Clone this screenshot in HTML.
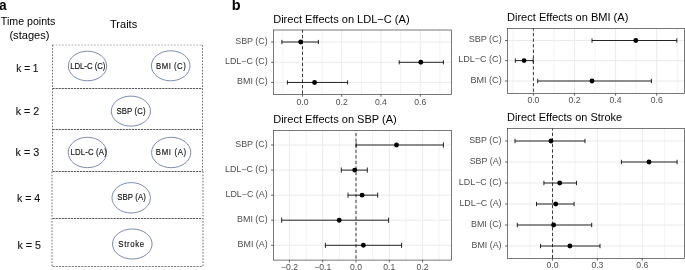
<!DOCTYPE html>
<html><head><meta charset="utf-8"><style>
html,body{margin:0;padding:0;background:#fff;}
body{width:685px;height:270px;overflow:hidden;}
svg{display:block;will-change:transform;font-family:"Liberation Sans",sans-serif;}
</style></head><body>
<svg xmlns="http://www.w3.org/2000/svg" width="685" height="270" viewBox="0 0 685 270">
<rect width="685" height="270" fill="#fff"/>
<text x="-0.69" y="9.70" font-size="14.00" font-weight="bold" fill="#000" textLength="7.31" lengthAdjust="spacingAndGlyphs">a</text>
<text x="231.86" y="9.70" font-size="14.00" font-weight="bold" fill="#000" textLength="8.83" lengthAdjust="spacingAndGlyphs">b</text>
<text x="0.86" y="24.60" font-size="11.00" fill="#000" textLength="54.50" lengthAdjust="spacingAndGlyphs">Time points</text>
<text x="9.41" y="38.80" font-size="11.00" fill="#000" textLength="40.09" lengthAdjust="spacingAndGlyphs">(stages)</text>
<text x="110.05" y="28.00" font-size="11.00" fill="#000">Traits</text>
<text x="16.32" y="72.00" font-size="11.60" fill="#111" stroke="#111" stroke-width="0.12" textLength="22.17" lengthAdjust="spacingAndGlyphs">k = 1</text>
<text x="15.78" y="114.80" font-size="11.60" fill="#111" stroke="#111" stroke-width="0.12" textLength="23.46" lengthAdjust="spacingAndGlyphs">k = 2</text>
<text x="15.57" y="156.10" font-size="11.60" fill="#111" stroke="#111" stroke-width="0.12" textLength="23.59" lengthAdjust="spacingAndGlyphs">k = 3</text>
<text x="16.88" y="201.60" font-size="11.60" fill="#111" stroke="#111" stroke-width="0.12" textLength="23.42" lengthAdjust="spacingAndGlyphs">k = 4</text>
<text x="17.38" y="249.10" font-size="11.60" fill="#111" stroke="#111" stroke-width="0.12" textLength="23.46" lengthAdjust="spacingAndGlyphs">k = 5</text>
<line x1="52.50" y1="45.00" x2="202.50" y2="45.00" stroke="#aaa" stroke-width="1" stroke-dasharray="1.6 1.6"/>
<line x1="52.50" y1="88.50" x2="202.50" y2="88.50" stroke="#555" stroke-width="1" stroke-dasharray="2.2 0.85"/>
<line x1="52.50" y1="129.50" x2="202.50" y2="129.50" stroke="#555" stroke-width="1" stroke-dasharray="2.2 0.85"/>
<line x1="52.50" y1="171.50" x2="202.50" y2="171.50" stroke="#555" stroke-width="1" stroke-dasharray="2.2 0.85"/>
<line x1="52.50" y1="218.50" x2="202.50" y2="218.50" stroke="#555" stroke-width="1" stroke-dasharray="2.2 0.85"/>
<line x1="52.50" y1="266.50" x2="202.50" y2="266.50" stroke="#777" stroke-width="1" stroke-dasharray="2 1.2"/>
<line x1="52.50" y1="45.00" x2="52.50" y2="171.50" stroke="#6a6a6a" stroke-width="1" stroke-dasharray="1.6 1.5"/>
<line x1="202.50" y1="45.00" x2="202.50" y2="171.50" stroke="#6a6a6a" stroke-width="1" stroke-dasharray="1.6 1.5"/>
<line x1="52.00" y1="171.50" x2="52.00" y2="266.50" stroke="#6a6a6a" stroke-width="1" stroke-dasharray="1.6 1.5"/>
<line x1="203.00" y1="171.50" x2="203.00" y2="266.50" stroke="#6a6a6a" stroke-width="1" stroke-dasharray="1.6 1.5"/>
<ellipse cx="87.5" cy="66.0" rx="19.2" ry="14.8" fill="none" stroke="#56678c" stroke-width="0.75"/>
<text transform="scale(0.8,1)" x="87.70" y="69.00" font-size="9.75" letter-spacing="-0.031" fill="#111" stroke="#111" stroke-width="0.15">LDL-C (C)</text>
<ellipse cx="170.7" cy="65.8" rx="19.3" ry="15.0" fill="none" stroke="#56678c" stroke-width="0.75"/>
<text transform="scale(0.8,1)" x="195.07" y="69.10" font-size="9.75" letter-spacing="0.600" fill="#111" stroke="#111" stroke-width="0.15">BMI (C)</text>
<ellipse cx="130.9" cy="111.1" rx="19.6" ry="15.0" fill="none" stroke="#56678c" stroke-width="0.75"/>
<text transform="scale(0.8,1)" x="145.56" y="114.10" font-size="9.75" letter-spacing="0.143" fill="#111" stroke="#111" stroke-width="0.15">SBP (C)</text>
<ellipse cx="87.4" cy="152.5" rx="19.2" ry="15.2" fill="none" stroke="#56678c" stroke-width="0.75"/>
<text transform="scale(0.8,1)" x="88.20" y="155.00" font-size="9.75" letter-spacing="0.177" fill="#111" stroke="#111" stroke-width="0.15">LDL-C (A)</text>
<ellipse cx="171.2" cy="152.5" rx="19.6" ry="15.2" fill="none" stroke="#56678c" stroke-width="0.75"/>
<text transform="scale(0.8,1)" x="194.82" y="155.00" font-size="9.75" letter-spacing="0.814" fill="#111" stroke="#111" stroke-width="0.15">BMI (A)</text>
<ellipse cx="131.2" cy="197.8" rx="19.2" ry="15.2" fill="none" stroke="#56678c" stroke-width="0.75"/>
<text transform="scale(0.8,1)" x="146.56" y="200.00" font-size="9.75" letter-spacing="0.129" fill="#111" stroke="#111" stroke-width="0.15">SBP (A)</text>
<ellipse cx="132.3" cy="244.0" rx="19.8" ry="15.0" fill="none" stroke="#56678c" stroke-width="0.75"/>
<text transform="scale(0.8,1)" x="147.94" y="246.90" font-size="9.75" letter-spacing="0.785" fill="#111" stroke="#111" stroke-width="0.15">Stroke</text>
<text x="273.19" y="22.70" font-size="11.05" fill="#000">Direct Effects on LDL−C (A)</text>
<line x1="282.88" y1="30.00" x2="282.88" y2="94.40" stroke="#ebebeb" stroke-width="0.6"/>
<line x1="302.50" y1="30.00" x2="302.50" y2="94.40" stroke="#ebebeb" stroke-width="1.0"/>
<line x1="322.12" y1="30.00" x2="322.12" y2="94.40" stroke="#ebebeb" stroke-width="0.6"/>
<line x1="341.74" y1="30.00" x2="341.74" y2="94.40" stroke="#ebebeb" stroke-width="1.0"/>
<line x1="361.36" y1="30.00" x2="361.36" y2="94.40" stroke="#ebebeb" stroke-width="0.6"/>
<line x1="380.98" y1="30.00" x2="380.98" y2="94.40" stroke="#ebebeb" stroke-width="1.0"/>
<line x1="400.60" y1="30.00" x2="400.60" y2="94.40" stroke="#ebebeb" stroke-width="0.6"/>
<line x1="420.22" y1="30.00" x2="420.22" y2="94.40" stroke="#ebebeb" stroke-width="1.0"/>
<line x1="439.84" y1="30.00" x2="439.84" y2="94.40" stroke="#ebebeb" stroke-width="0.6"/>
<line x1="273.50" y1="42.00" x2="451.50" y2="42.00" stroke="#ebebeb" stroke-width="1.0"/>
<line x1="273.50" y1="62.30" x2="451.50" y2="62.30" stroke="#ebebeb" stroke-width="1.0"/>
<line x1="273.50" y1="82.45" x2="451.50" y2="82.45" stroke="#ebebeb" stroke-width="1.0"/>
<line x1="302.50" y1="30.00" x2="302.50" y2="94.40" stroke="#222" stroke-width="0.9" stroke-dasharray="3.2 2.36" stroke-dashoffset="0.56"/>
<line x1="281.90" y1="42.00" x2="318.40" y2="42.00" stroke="#000" stroke-width="0.85"/>
<line x1="281.90" y1="39.90" x2="281.90" y2="44.10" stroke="#000" stroke-width="0.85"/>
<line x1="318.40" y1="39.90" x2="318.40" y2="44.10" stroke="#000" stroke-width="0.85"/>
<circle cx="300.70" cy="42.00" r="2.45" fill="#000"/>
<line x1="399.20" y1="62.30" x2="443.40" y2="62.30" stroke="#000" stroke-width="0.85"/>
<line x1="399.20" y1="60.20" x2="399.20" y2="64.40" stroke="#000" stroke-width="0.85"/>
<line x1="443.40" y1="60.20" x2="443.40" y2="64.40" stroke="#000" stroke-width="0.85"/>
<circle cx="420.80" cy="62.30" r="2.45" fill="#000"/>
<line x1="287.40" y1="82.45" x2="347.60" y2="82.45" stroke="#000" stroke-width="0.85"/>
<line x1="287.40" y1="80.35" x2="287.40" y2="84.55" stroke="#000" stroke-width="0.85"/>
<line x1="347.60" y1="80.35" x2="347.60" y2="84.55" stroke="#000" stroke-width="0.85"/>
<circle cx="314.60" cy="82.45" r="2.45" fill="#000"/>
<rect x="273.50" y="30.00" width="178.00" height="64.40" fill="none" stroke="#333" stroke-width="0.66"/>
<line x1="271.10" y1="42.00" x2="273.50" y2="42.00" stroke="#333" stroke-width="0.75"/>
<text x="235.29" y="43.90" font-size="8.90" fill="#4d4d4d">SBP (C)</text>
<line x1="271.10" y1="62.30" x2="273.50" y2="62.30" stroke="#333" stroke-width="0.75"/>
<text x="224.97" y="64.20" font-size="8.90" fill="#4d4d4d">LDL−C (C)</text>
<line x1="271.10" y1="82.45" x2="273.50" y2="82.45" stroke="#333" stroke-width="0.75"/>
<text x="237.12" y="84.35" font-size="8.90" fill="#4d4d4d">BMI (C)</text>
<line x1="302.50" y1="94.40" x2="302.50" y2="96.70" stroke="#333" stroke-width="0.75"/>
<text x="296.49" y="105.00" font-size="8.90" fill="#4d4d4d" textLength="12.00" lengthAdjust="spacingAndGlyphs">0.0</text>
<line x1="341.74" y1="94.40" x2="341.74" y2="96.70" stroke="#333" stroke-width="0.75"/>
<text x="335.78" y="105.00" font-size="8.90" fill="#4d4d4d" textLength="12.00" lengthAdjust="spacingAndGlyphs">0.2</text>
<line x1="380.98" y1="94.40" x2="380.98" y2="96.70" stroke="#333" stroke-width="0.75"/>
<text x="374.93" y="105.00" font-size="8.90" fill="#4d4d4d" textLength="12.00" lengthAdjust="spacingAndGlyphs">0.4</text>
<line x1="420.22" y1="94.40" x2="420.22" y2="96.70" stroke="#333" stroke-width="0.75"/>
<text x="414.23" y="105.00" font-size="8.90" fill="#4d4d4d" textLength="12.00" lengthAdjust="spacingAndGlyphs">0.6</text>
<text x="506.99" y="20.70" font-size="11.05" fill="#000">Direct Effects on BMI (A)</text>
<line x1="512.85" y1="28.45" x2="512.85" y2="93.40" stroke="#ebebeb" stroke-width="0.6"/>
<line x1="533.40" y1="28.45" x2="533.40" y2="93.40" stroke="#ebebeb" stroke-width="1.0"/>
<line x1="553.95" y1="28.45" x2="553.95" y2="93.40" stroke="#ebebeb" stroke-width="0.6"/>
<line x1="574.50" y1="28.45" x2="574.50" y2="93.40" stroke="#ebebeb" stroke-width="1.0"/>
<line x1="595.05" y1="28.45" x2="595.05" y2="93.40" stroke="#ebebeb" stroke-width="0.6"/>
<line x1="615.60" y1="28.45" x2="615.60" y2="93.40" stroke="#ebebeb" stroke-width="1.0"/>
<line x1="636.15" y1="28.45" x2="636.15" y2="93.40" stroke="#ebebeb" stroke-width="0.6"/>
<line x1="656.70" y1="28.45" x2="656.70" y2="93.40" stroke="#ebebeb" stroke-width="1.0"/>
<line x1="677.25" y1="28.45" x2="677.25" y2="93.40" stroke="#ebebeb" stroke-width="0.6"/>
<line x1="507.50" y1="40.50" x2="684.60" y2="40.50" stroke="#ebebeb" stroke-width="1.0"/>
<line x1="507.50" y1="60.60" x2="684.60" y2="60.60" stroke="#ebebeb" stroke-width="1.0"/>
<line x1="507.50" y1="81.00" x2="684.60" y2="81.00" stroke="#ebebeb" stroke-width="1.0"/>
<line x1="533.40" y1="28.45" x2="533.40" y2="93.40" stroke="#222" stroke-width="0.9" stroke-dasharray="3.2 2.36" stroke-dashoffset="1.00"/>
<line x1="592.00" y1="40.50" x2="676.80" y2="40.50" stroke="#000" stroke-width="0.85"/>
<line x1="592.00" y1="38.30" x2="592.00" y2="42.70" stroke="#000" stroke-width="0.85"/>
<line x1="676.80" y1="38.30" x2="676.80" y2="42.70" stroke="#000" stroke-width="0.85"/>
<circle cx="635.80" cy="40.50" r="2.45" fill="#000"/>
<line x1="515.30" y1="60.60" x2="533.20" y2="60.60" stroke="#000" stroke-width="0.85"/>
<line x1="515.30" y1="58.40" x2="515.30" y2="62.80" stroke="#000" stroke-width="0.85"/>
<line x1="533.20" y1="58.40" x2="533.20" y2="62.80" stroke="#000" stroke-width="0.85"/>
<circle cx="524.10" cy="60.60" r="2.45" fill="#000"/>
<line x1="537.70" y1="81.00" x2="651.40" y2="81.00" stroke="#000" stroke-width="0.85"/>
<line x1="537.70" y1="78.80" x2="537.70" y2="83.20" stroke="#000" stroke-width="0.85"/>
<line x1="651.40" y1="78.80" x2="651.40" y2="83.20" stroke="#000" stroke-width="0.85"/>
<circle cx="592.00" cy="81.00" r="2.45" fill="#000"/>
<rect x="507.50" y="28.45" width="177.10" height="64.95" fill="none" stroke="#333" stroke-width="0.66"/>
<line x1="505.10" y1="40.50" x2="507.50" y2="40.50" stroke="#333" stroke-width="0.75"/>
<text x="468.66" y="42.00" font-size="9.05" fill="#4d4d4d">SBP (C)</text>
<line x1="505.10" y1="60.60" x2="507.50" y2="60.60" stroke="#333" stroke-width="0.75"/>
<text x="458.16" y="62.10" font-size="9.05" fill="#4d4d4d">LDL−C (C)</text>
<line x1="505.10" y1="81.00" x2="507.50" y2="81.00" stroke="#333" stroke-width="0.75"/>
<text x="470.51" y="82.50" font-size="9.05" fill="#4d4d4d">BMI (C)</text>
<line x1="533.40" y1="93.40" x2="533.40" y2="95.70" stroke="#333" stroke-width="0.75"/>
<text x="527.39" y="103.20" font-size="8.90" fill="#4d4d4d" textLength="12.00" lengthAdjust="spacingAndGlyphs">0.0</text>
<line x1="574.50" y1="93.40" x2="574.50" y2="95.70" stroke="#333" stroke-width="0.75"/>
<text x="568.54" y="103.20" font-size="8.90" fill="#4d4d4d" textLength="12.00" lengthAdjust="spacingAndGlyphs">0.2</text>
<line x1="615.60" y1="93.40" x2="615.60" y2="95.70" stroke="#333" stroke-width="0.75"/>
<text x="609.55" y="103.20" font-size="8.90" fill="#4d4d4d" textLength="12.00" lengthAdjust="spacingAndGlyphs">0.4</text>
<line x1="656.70" y1="93.40" x2="656.70" y2="95.70" stroke="#333" stroke-width="0.75"/>
<text x="650.71" y="103.20" font-size="8.90" fill="#4d4d4d" textLength="12.00" lengthAdjust="spacingAndGlyphs">0.6</text>
<text x="273.19" y="122.70" font-size="11.05" fill="#000">Direct Effects on SBP (A)</text>
<line x1="289.46" y1="130.45" x2="289.46" y2="260.10" stroke="#ebebeb" stroke-width="1.0"/>
<line x1="306.10" y1="130.45" x2="306.10" y2="260.10" stroke="#ebebeb" stroke-width="0.6"/>
<line x1="322.73" y1="130.45" x2="322.73" y2="260.10" stroke="#ebebeb" stroke-width="1.0"/>
<line x1="339.37" y1="130.45" x2="339.37" y2="260.10" stroke="#ebebeb" stroke-width="0.6"/>
<line x1="356.00" y1="130.45" x2="356.00" y2="260.10" stroke="#ebebeb" stroke-width="1.0"/>
<line x1="372.63" y1="130.45" x2="372.63" y2="260.10" stroke="#ebebeb" stroke-width="0.6"/>
<line x1="389.27" y1="130.45" x2="389.27" y2="260.10" stroke="#ebebeb" stroke-width="1.0"/>
<line x1="405.90" y1="130.45" x2="405.90" y2="260.10" stroke="#ebebeb" stroke-width="0.6"/>
<line x1="422.54" y1="130.45" x2="422.54" y2="260.10" stroke="#ebebeb" stroke-width="1.0"/>
<line x1="439.18" y1="130.45" x2="439.18" y2="260.10" stroke="#ebebeb" stroke-width="0.6"/>
<line x1="273.50" y1="145.00" x2="451.50" y2="145.00" stroke="#ebebeb" stroke-width="1.0"/>
<line x1="273.50" y1="170.10" x2="451.50" y2="170.10" stroke="#ebebeb" stroke-width="1.0"/>
<line x1="273.50" y1="195.15" x2="451.50" y2="195.15" stroke="#ebebeb" stroke-width="1.0"/>
<line x1="273.50" y1="220.20" x2="451.50" y2="220.20" stroke="#ebebeb" stroke-width="1.0"/>
<line x1="273.50" y1="245.30" x2="451.50" y2="245.30" stroke="#ebebeb" stroke-width="1.0"/>
<line x1="356.00" y1="130.45" x2="356.00" y2="260.10" stroke="#222" stroke-width="0.9" stroke-dasharray="3.2 2.36" stroke-dashoffset="2.95"/>
<line x1="356.10" y1="145.00" x2="443.40" y2="145.00" stroke="#000" stroke-width="0.85"/>
<line x1="356.10" y1="142.40" x2="356.10" y2="147.60" stroke="#000" stroke-width="0.85"/>
<line x1="443.40" y1="142.40" x2="443.40" y2="147.60" stroke="#000" stroke-width="0.85"/>
<circle cx="396.50" cy="145.00" r="2.45" fill="#000"/>
<line x1="341.30" y1="170.10" x2="367.30" y2="170.10" stroke="#000" stroke-width="0.85"/>
<line x1="341.30" y1="167.50" x2="341.30" y2="172.70" stroke="#000" stroke-width="0.85"/>
<line x1="367.30" y1="167.50" x2="367.30" y2="172.70" stroke="#000" stroke-width="0.85"/>
<circle cx="354.70" cy="170.10" r="2.45" fill="#000"/>
<line x1="348.00" y1="195.15" x2="377.70" y2="195.15" stroke="#000" stroke-width="0.85"/>
<line x1="348.00" y1="192.55" x2="348.00" y2="197.75" stroke="#000" stroke-width="0.85"/>
<line x1="377.70" y1="192.55" x2="377.70" y2="197.75" stroke="#000" stroke-width="0.85"/>
<circle cx="362.10" cy="195.15" r="2.45" fill="#000"/>
<line x1="281.70" y1="220.20" x2="388.60" y2="220.20" stroke="#000" stroke-width="0.85"/>
<line x1="281.70" y1="217.60" x2="281.70" y2="222.80" stroke="#000" stroke-width="0.85"/>
<line x1="388.60" y1="217.60" x2="388.60" y2="222.80" stroke="#000" stroke-width="0.85"/>
<circle cx="339.20" cy="220.20" r="2.45" fill="#000"/>
<line x1="325.40" y1="245.30" x2="401.60" y2="245.30" stroke="#000" stroke-width="0.85"/>
<line x1="325.40" y1="242.70" x2="325.40" y2="247.90" stroke="#000" stroke-width="0.85"/>
<line x1="401.60" y1="242.70" x2="401.60" y2="247.90" stroke="#000" stroke-width="0.85"/>
<circle cx="363.40" cy="245.30" r="2.45" fill="#000"/>
<rect x="273.50" y="130.45" width="178.00" height="129.65" fill="none" stroke="#333" stroke-width="0.66"/>
<line x1="271.10" y1="145.00" x2="273.50" y2="145.00" stroke="#333" stroke-width="0.75"/>
<text x="235.29" y="147.10" font-size="8.90" fill="#4d4d4d">SBP (C)</text>
<line x1="271.10" y1="170.10" x2="273.50" y2="170.10" stroke="#333" stroke-width="0.75"/>
<text x="224.97" y="172.20" font-size="8.90" fill="#4d4d4d">LDL−C (C)</text>
<line x1="271.10" y1="195.15" x2="273.50" y2="195.15" stroke="#333" stroke-width="0.75"/>
<text x="225.48" y="197.25" font-size="8.90" fill="#4d4d4d">LDL−C (A)</text>
<line x1="271.10" y1="220.20" x2="273.50" y2="220.20" stroke="#333" stroke-width="0.75"/>
<text x="237.12" y="222.30" font-size="8.90" fill="#4d4d4d">BMI (C)</text>
<line x1="271.10" y1="245.30" x2="273.50" y2="245.30" stroke="#333" stroke-width="0.75"/>
<text x="237.61" y="247.40" font-size="8.90" fill="#4d4d4d">BMI (A)</text>
<line x1="289.46" y1="260.10" x2="289.46" y2="262.40" stroke="#333" stroke-width="0.75"/>
<text x="280.95" y="270.40" font-size="8.90" fill="#4d4d4d" textLength="17.04" lengthAdjust="spacingAndGlyphs">−0.2</text>
<line x1="322.73" y1="260.10" x2="322.73" y2="262.40" stroke="#333" stroke-width="0.75"/>
<text x="314.20" y="270.40" font-size="8.90" fill="#4d4d4d" textLength="17.04" lengthAdjust="spacingAndGlyphs">−0.1</text>
<line x1="356.00" y1="260.10" x2="356.00" y2="262.40" stroke="#333" stroke-width="0.75"/>
<text x="349.99" y="270.40" font-size="8.90" fill="#4d4d4d" textLength="12.00" lengthAdjust="spacingAndGlyphs">0.0</text>
<line x1="389.27" y1="260.10" x2="389.27" y2="262.40" stroke="#333" stroke-width="0.75"/>
<text x="383.30" y="270.40" font-size="8.90" fill="#4d4d4d" textLength="12.00" lengthAdjust="spacingAndGlyphs">0.1</text>
<line x1="422.54" y1="260.10" x2="422.54" y2="262.40" stroke="#333" stroke-width="0.75"/>
<text x="416.58" y="270.40" font-size="8.90" fill="#4d4d4d" textLength="12.00" lengthAdjust="spacingAndGlyphs">0.2</text>
<text x="506.99" y="121.10" font-size="11.05" fill="#000" textLength="115.19" lengthAdjust="spacingAndGlyphs">Direct Effects on Stroke</text>
<line x1="530.05" y1="128.50" x2="530.05" y2="258.35" stroke="#ebebeb" stroke-width="0.6"/>
<line x1="552.50" y1="128.50" x2="552.50" y2="258.35" stroke="#ebebeb" stroke-width="1.0"/>
<line x1="574.95" y1="128.50" x2="574.95" y2="258.35" stroke="#ebebeb" stroke-width="0.6"/>
<line x1="597.40" y1="128.50" x2="597.40" y2="258.35" stroke="#ebebeb" stroke-width="1.0"/>
<line x1="619.85" y1="128.50" x2="619.85" y2="258.35" stroke="#ebebeb" stroke-width="0.6"/>
<line x1="642.30" y1="128.50" x2="642.30" y2="258.35" stroke="#ebebeb" stroke-width="1.0"/>
<line x1="664.75" y1="128.50" x2="664.75" y2="258.35" stroke="#ebebeb" stroke-width="0.6"/>
<line x1="507.50" y1="141.00" x2="684.60" y2="141.00" stroke="#ebebeb" stroke-width="1.0"/>
<line x1="507.50" y1="162.00" x2="684.60" y2="162.00" stroke="#ebebeb" stroke-width="1.0"/>
<line x1="507.50" y1="183.00" x2="684.60" y2="183.00" stroke="#ebebeb" stroke-width="1.0"/>
<line x1="507.50" y1="204.00" x2="684.60" y2="204.00" stroke="#ebebeb" stroke-width="1.0"/>
<line x1="507.50" y1="225.00" x2="684.60" y2="225.00" stroke="#ebebeb" stroke-width="1.0"/>
<line x1="507.50" y1="246.00" x2="684.60" y2="246.00" stroke="#ebebeb" stroke-width="1.0"/>
<line x1="552.50" y1="128.50" x2="552.50" y2="258.35" stroke="#222" stroke-width="0.9" stroke-dasharray="3.2 2.36" stroke-dashoffset="1.34"/>
<line x1="515.00" y1="141.00" x2="585.00" y2="141.00" stroke="#000" stroke-width="0.85"/>
<line x1="515.00" y1="138.80" x2="515.00" y2="143.20" stroke="#000" stroke-width="0.85"/>
<line x1="585.00" y1="138.80" x2="585.00" y2="143.20" stroke="#000" stroke-width="0.85"/>
<circle cx="551.00" cy="141.00" r="2.45" fill="#000"/>
<line x1="621.40" y1="162.00" x2="677.10" y2="162.00" stroke="#000" stroke-width="0.85"/>
<line x1="621.40" y1="159.80" x2="621.40" y2="164.20" stroke="#000" stroke-width="0.85"/>
<line x1="677.10" y1="159.80" x2="677.10" y2="164.20" stroke="#000" stroke-width="0.85"/>
<circle cx="649.00" cy="162.00" r="2.45" fill="#000"/>
<line x1="543.90" y1="183.00" x2="576.50" y2="183.00" stroke="#000" stroke-width="0.85"/>
<line x1="543.90" y1="180.80" x2="543.90" y2="185.20" stroke="#000" stroke-width="0.85"/>
<line x1="576.50" y1="180.80" x2="576.50" y2="185.20" stroke="#000" stroke-width="0.85"/>
<circle cx="559.70" cy="183.00" r="2.45" fill="#000"/>
<line x1="536.50" y1="204.00" x2="574.10" y2="204.00" stroke="#000" stroke-width="0.85"/>
<line x1="536.50" y1="201.80" x2="536.50" y2="206.20" stroke="#000" stroke-width="0.85"/>
<line x1="574.10" y1="201.80" x2="574.10" y2="206.20" stroke="#000" stroke-width="0.85"/>
<circle cx="555.70" cy="204.00" r="2.45" fill="#000"/>
<line x1="517.30" y1="225.00" x2="591.70" y2="225.00" stroke="#000" stroke-width="0.85"/>
<line x1="517.30" y1="222.80" x2="517.30" y2="227.20" stroke="#000" stroke-width="0.85"/>
<line x1="591.70" y1="222.80" x2="591.70" y2="227.20" stroke="#000" stroke-width="0.85"/>
<circle cx="553.60" cy="225.00" r="2.45" fill="#000"/>
<line x1="540.50" y1="246.00" x2="600.00" y2="246.00" stroke="#000" stroke-width="0.85"/>
<line x1="540.50" y1="243.80" x2="540.50" y2="248.20" stroke="#000" stroke-width="0.85"/>
<line x1="600.00" y1="243.80" x2="600.00" y2="248.20" stroke="#000" stroke-width="0.85"/>
<circle cx="569.90" cy="246.00" r="2.45" fill="#000"/>
<rect x="507.50" y="128.50" width="177.10" height="129.85" fill="none" stroke="#333" stroke-width="0.66"/>
<line x1="505.10" y1="141.00" x2="507.50" y2="141.00" stroke="#333" stroke-width="0.75"/>
<text x="469.19" y="142.80" font-size="8.90" fill="#4d4d4d">SBP (C)</text>
<line x1="505.10" y1="162.00" x2="507.50" y2="162.00" stroke="#333" stroke-width="0.75"/>
<text x="469.68" y="163.80" font-size="8.90" fill="#4d4d4d">SBP (A)</text>
<line x1="505.10" y1="183.00" x2="507.50" y2="183.00" stroke="#333" stroke-width="0.75"/>
<text x="458.87" y="184.80" font-size="8.90" fill="#4d4d4d">LDL−C (C)</text>
<line x1="505.10" y1="204.00" x2="507.50" y2="204.00" stroke="#333" stroke-width="0.75"/>
<text x="459.38" y="205.80" font-size="8.90" fill="#4d4d4d">LDL−C (A)</text>
<line x1="505.10" y1="225.00" x2="507.50" y2="225.00" stroke="#333" stroke-width="0.75"/>
<text x="471.02" y="226.80" font-size="8.90" fill="#4d4d4d">BMI (C)</text>
<line x1="505.10" y1="246.00" x2="507.50" y2="246.00" stroke="#333" stroke-width="0.75"/>
<text x="471.51" y="247.80" font-size="8.90" fill="#4d4d4d">BMI (A)</text>
<line x1="552.50" y1="258.35" x2="552.50" y2="260.65" stroke="#333" stroke-width="0.75"/>
<text x="546.49" y="268.40" font-size="8.90" fill="#4d4d4d" textLength="12.00" lengthAdjust="spacingAndGlyphs">0.0</text>
<line x1="597.40" y1="258.35" x2="597.40" y2="260.65" stroke="#333" stroke-width="0.75"/>
<text x="591.41" y="268.40" font-size="8.90" fill="#4d4d4d" textLength="12.00" lengthAdjust="spacingAndGlyphs">0.3</text>
<line x1="642.30" y1="258.35" x2="642.30" y2="260.65" stroke="#333" stroke-width="0.75"/>
<text x="636.31" y="268.40" font-size="8.90" fill="#4d4d4d" textLength="12.00" lengthAdjust="spacingAndGlyphs">0.6</text>
</svg>
</body></html>
